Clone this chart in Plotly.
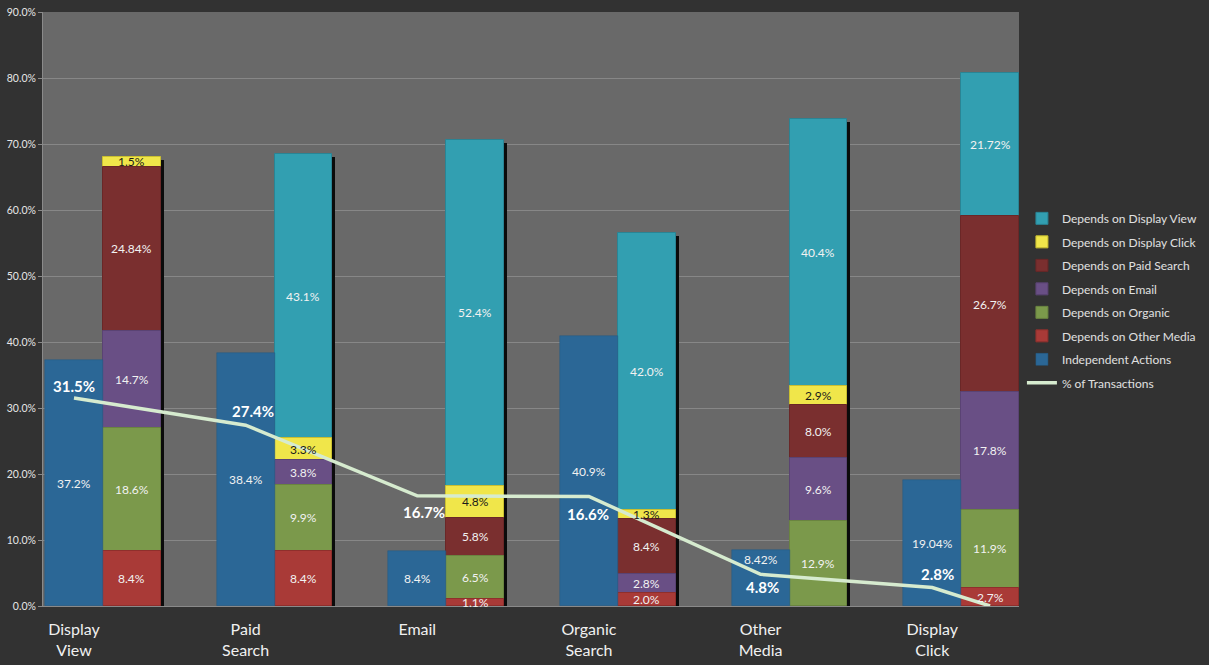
import plotly.graph_objects as go

# ---------------- data ----------------
groups = ["Display<br>View", "Paid<br>Search", "Email", "Organic<br>Search", "Other<br>Media", "Display<br>Click"]
independent = [37.2, 38.4, 8.4, 40.9, 8.42, 19.04]
dep_other_media = [8.4, 8.4, 1.1, 2.0, None, 2.7]
dep_organic = [18.6, 9.9, 6.5, None, 12.9, 11.9]
dep_email = [14.7, 3.8, None, 2.8, 9.6, 17.8]
dep_paid_search = [24.84, None, 5.8, 8.4, 8.0, 26.7]
dep_display_click = [1.5, 3.3, 4.8, 1.3, 2.9, None]
dep_display_view = [None, 43.1, 52.4, 42.0, 40.4, 21.72]
transactions = [31.5, 27.4, 16.7, 16.6, 4.8, 2.8]
transactions_end = 0.0
y_ticks = [0, 10, 20, 30, 40, 50, 60, 70, 80, 90]
y_tick_labels = [f"{v:.1f}%" for v in y_ticks]

# ---------------- styling ----------------
FONT = "Lato"
LABEL_SIZE = 12
BW = 0.337           # bar width in group units
SHADOW_DX = 0.018
stack_order = [
    ("Depends on Other Media", dep_other_media, "#a93a37", "#f2f2f2"),
    ("Depends on Organic", dep_organic, "#7b994b", "#f2f2f2"),
    ("Depends on Email", dep_email, "#694f85", "#f2f2f2"),
    ("Depends on Paid Search", dep_paid_search, "#7a2f2f", "#f2f2f2"),
    ("Depends on Display Click", dep_display_click, "#f0e64a", "#1a1a1a"),
    ("Depends on Display View", dep_display_view, "#329fb1", "#f2f2f2"),
]
line_colors = {
    "Depends on Display View": "#2a8494",
    "Depends on Display Click": "#c9bf30",
    "Depends on Paid Search": "#6a2727",
    "Depends on Email": "#5a4373",
    "Depends on Organic": "#6a8440",
    "Depends on Other Media": "#8f2f2c",
}
IND_COLOR = "#2b6796"
LINE_COLOR = "#d6ebcf"
# label offsets (pixels) for the % of Transactions labels
line_label_shift = [(0, 12), (7, 14), (7, -16), (-1, -18), (2, -13), (5, 14)]
ind_shift = [0, 0, 0, 0, 19, 0]


def fmt(v):
    return f"{v:.2f}%" if abs(round(v, 1) - v) > 1e-9 else f"{v:.1f}%"


n = len(groups)
x_ind = [i - BW / 2 for i in range(n)]
x_stk = [i + BW / 2 for i in range(n)]

# bases for stacked segments
bases = {}
running = [0.0] * n
for name, vals, _, _ in stack_order:
    bases[name] = list(running)
    running = [r + (v or 0) for r, v in zip(running, vals)]
totals = running

fig = go.Figure()

# shadow behind the stacked bars
fig.add_trace(go.Bar(
    x=[x + SHADOW_DX for x in x_stk], y=[t - 0.4 for t in totals], base=[0] * n,
    width=BW, marker=dict(color="#0b0b0b", line=dict(width=0)),
    showlegend=False, hoverinfo="skip", opacity=1,
))

annotations = []

# stacked traces, added in legend order (top of stack first)
for name, vals, color, tcolor in reversed(stack_order):
    ys = [v if v else None for v in vals]
    fig.add_trace(go.Bar(
        x=x_stk, y=ys, base=bases[name], width=BW, name=name,
        marker=dict(color=color, line=dict(color=line_colors[name], width=1)),
        legendgroup=name, opacity=1,
    ))
    for i, v in enumerate(vals):
        if v:
            annotations.append(dict(
                x=x_stk[i], y=bases[name][i] + v / 2, text=fmt(v),
                showarrow=False, font=dict(family=FONT, size=LABEL_SIZE, color=tcolor),
            ))

# independent actions
fig.add_trace(go.Bar(
    x=x_ind, y=independent, base=[0] * n, width=BW, name="Independent Actions",
    marker=dict(color=IND_COLOR, line=dict(color="#255a84", width=0.5)),
    legendgroup="ind", opacity=1,
))
for i, v in enumerate(independent):
    annotations.append(dict(
        x=x_ind[i], y=v / 2, text=fmt(v), yshift=ind_shift[i],
        showarrow=False, font=dict(family=FONT, size=LABEL_SIZE, color="#f2f2f2"),
    ))

# % of transactions line
line_x = x_ind + [x_stk[-1]]
line_y = transactions + [transactions_end]
fig.add_trace(go.Scatter(
    x=line_x, y=line_y, mode="lines", name="% of Transactions",
    line=dict(color=LINE_COLOR, width=3.5),
    legendgroup="line", cliponaxis=False,
))
for i, v in enumerate(transactions):
    dx, dy = line_label_shift[i]
    annotations.append(dict(
        x=x_ind[i], y=v, text=f"<b>{v:.1f}%</b>", xshift=dx, yshift=dy,
        showarrow=False, font=dict(family=FONT, size=15, color="#ffffff"),
    ))

fig.update_layout(
    width=1209, height=665,
    margin=dict(l=43, r=190, t=12, b=59, autoexpand=False),
    paper_bgcolor="#323232", plot_bgcolor="#696969",
    barmode="overlay", bargap=0,
    font=dict(family=FONT, color="#e6e6e6"),
    showlegend=True,
    legend=dict(
        x=1.003, y=0.677, xanchor="left", yanchor="top",
        font=dict(family=FONT, size=12, color="#e0e0e0"),
        bgcolor="rgba(0,0,0,0)", tracegroupgap=4.5, itemwidth=30,
    ),
    annotations=annotations,
    xaxis=dict(
        range=[-BW - 0.012, n - 1 + BW], tickvals=x_ind, ticktext=groups,
        tickfont=dict(family=FONT, size=16, color="#f0f0f0"),
        showgrid=False, zeroline=False, showline=True, linecolor="#8a8a8a",
        ticks="", fixedrange=True, ticklabelstandoff=9,
    ),
    yaxis=dict(
        range=[0, 90], tickvals=y_ticks, ticktext=y_tick_labels,
        tickfont=dict(family=FONT, size=10.5, color="#e6e6e6"),
        gridcolor="#878787", gridwidth=1.2, zeroline=False,
        showline=True, linecolor="#8a8a8a", ticks="outside", ticklen=4,
        tickcolor="#8a8a8a",
    ),
)

fig.write_html("out.html", config={"displayModeBar": False},
               post_script="document.body.style.margin='0';")
